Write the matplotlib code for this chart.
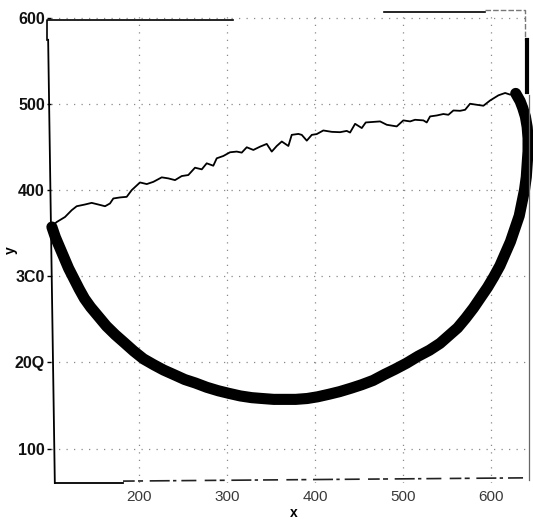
import matplotlib
matplotlib.use("Agg")
import matplotlib.pyplot as plt

plt.rcParams['font.family'] = ['Liberation Sans', 'DejaVu Sans']

# thick lower arc
arc_x = [101, 105, 110, 115, 120, 126, 132, 138, 145, 154, 163, 173, 183, 194, 205,
         217, 228, 239, 252, 264, 277, 290, 302, 315, 328, 340, 353, 366, 378, 391,
         403, 416, 428, 441, 453, 466, 479, 491, 504, 517, 530, 542, 552, 562, 571,
         580, 588, 596, 603, 610, 616, 622, 627, 632, 635, 638, 640, 641, 642, 642,
         641, 639, 636, 633, 628]
arc_y = [357, 345, 333, 321, 309, 297, 285, 274, 264, 253, 242, 232, 223, 213, 204,
         197, 191, 186, 180, 176, 171, 167, 164, 161, 159, 158, 157, 157, 157, 158,
         160, 163, 166, 170, 174, 179, 186, 192, 199, 207, 214, 222, 231, 240, 251,
         263, 275, 287, 299, 312, 326, 340, 355, 370, 385, 400, 415, 430, 445, 460,
         473, 485, 495, 503, 512]

# thin upper trace
trace_x = [101, 106.5, 115.9, 123.5, 129.2, 138.6, 146.2, 153.7, 161.4, 167, 170.8,
           178.4, 186, 191.7, 201.1, 208.8, 216.3, 225.8, 233.3, 240.9, 248.5, 256,
           263.6, 271.3, 276.9, 284.4, 288.3, 295.8, 303.4, 311, 316.7, 322.4, 329.9,
           337.5, 345.1, 350.8, 356.5, 362.2, 369.7, 373.5, 381, 384.9, 390.6, 396.3,
           401.9, 409.4, 419, 428.4, 436, 439.8, 445.5, 453.1, 457.6, 464.4, 473.9,
           481.5, 492.8, 500.3, 508, 513.6, 523.1, 526.9, 530.7, 538.3, 545.8, 551.5,
           557.2, 564.8, 570.5, 576.1, 583.8, 591.3, 598.9, 608.4, 616, 621.6, 628]
trace_y = [358, 362.8, 368.6, 376.5, 381.1, 383.1, 385, 383.1, 381.1, 384.3, 390.1,
           391.3, 392, 399.8, 408.7, 406.8, 409.4, 414.6, 413.4, 411.4, 416.1, 417.3,
           425.8, 423.9, 430.9, 428.1, 436.7, 439.4, 443.7, 444.5, 443.3, 449.5, 446.4,
           450.2, 453.4, 444.5, 451, 456.2, 451, 463.9, 465, 463.9, 457.2, 463.9,
           464.8, 469, 467.4, 467, 468.5, 466.6, 476.7, 471.8, 478.3, 478.8, 479.5,
           475.6, 473.7, 480.7, 479.5, 481.4, 480.7, 478.3, 485.3, 486.4, 488.1, 487.2,
           492.2, 491.8, 493, 500, 498.8, 497.7, 503.8, 509.8, 512.5, 510.6, 512]

x_ticks = [200, 300, 400, 500, 600]
x_tick_labels = ["200", "300", "400", "500", "600"]
y_ticks = [100, 200, 300, 400, 500, 600]
y_tick_labels = ["100", "20Q", "3C0", "400", "500", "600"]

fig = plt.figure(figsize=(5.33, 5.20), dpi=100)
ax = fig.add_axes([0.0957, 0.0712, 0.895, 0.900])
ax.set_xlim(100, 642)
ax.set_ylim(60, 603)

ax.set_xticks(x_ticks)
ax.set_xticklabels(x_tick_labels, fontsize=11, color='#3a3a3a')
ax.set_yticks(y_ticks)
ax.set_yticklabels(y_tick_labels, fontsize=11.5, fontweight='bold', color='#111111')
ax.tick_params(axis='x', length=0, pad=5)
ax.tick_params(axis='y', direction='out', length=3, width=1, pad=1.5)

ax.grid(True, linestyle=(0, (1, 5)), color='#8a8a8a', linewidth=0.9)
ax.set_axisbelow(True)

ax.plot(arc_x, arc_y, color='black', linewidth=8, solid_capstyle='round',
        solid_joinstyle='round', zorder=3, clip_on=False)
ax.plot(trace_x, trace_y, color='black', linewidth=1.3, zorder=4)

ax.set_xlabel('x', fontsize=10, fontweight='bold')
ax.set_ylabel('y', fontsize=10, fontweight='bold')
ax.xaxis.set_label_coords(0.508, -0.05)
ax.yaxis.set_label_coords(-0.069, 0.497)

# broken frame
for s in ax.spines.values():
    s.set_visible(False)
T = ax.transAxes
kw = dict(transform=T, clip_on=False, zorder=5)
ax.plot([-0.008, -0.008, 0.382], [0.947, 0.989, 0.989], color='black', lw=1.2, **kw)
ax.plot([-0.006, 0.008], [0.947, 0.0], color='black', lw=1.3, **kw)
ax.plot([0.698, 0.910], [1.006, 1.006], color='black', lw=1.2, **kw)
ax.plot([0.910, 0.994, 0.994], [1.011, 1.011, 0.947], color='#777777', lw=1.0,
        linestyle=(0, (4, 1.5)), **kw)
ax.plot([0.998, 0.998], [0.947, 0.835], color='black', lw=3.0, **kw)
ax.plot([1.002, 1.002], [0.829, 0.006], color='#666666', lw=0.9, **kw)
ax.plot([0.008, 0.151], [0.0, 0.0], color='black', lw=1.3, **kw)
ax.plot([0.151, 1.0], [0.004, 0.011], color='#222222', lw=1.2,
        linestyle=(0, (7, 2, 3, 4, 12, 2, 2, 3, 9, 5)), **kw)

fig.savefig('out.png', dpi=100)
